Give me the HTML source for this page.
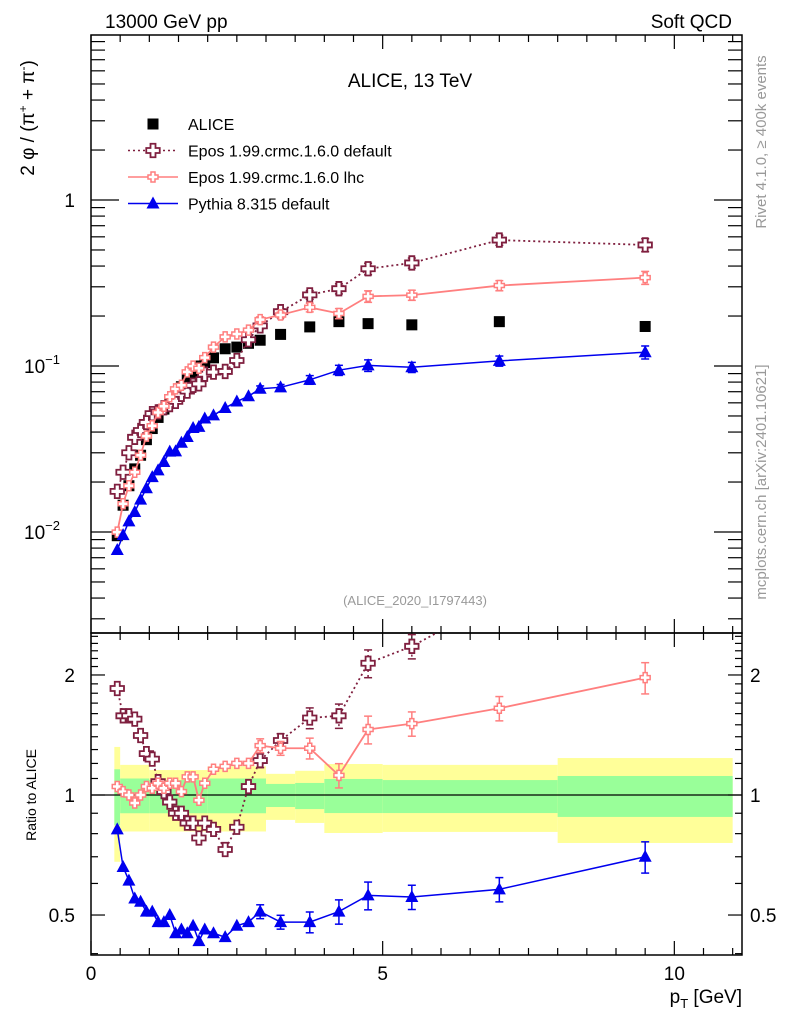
<!DOCTYPE html>
<html><head><meta charset="utf-8"><style>
html,body{margin:0;padding:0;background:#fff;}
svg{display:block;font-family:"Liberation Sans",sans-serif;}
</style></head><body>
<svg id="chart" width="786" height="1024" viewBox="0 0 786 1024" xmlns="http://www.w3.org/2000/svg">
<g id="bands"></g>
<g id="grid"></g>
<g id="series"></g>
<text x="105" y="28" font-size="19">13000 GeV pp</text>
<text x="732" y="28" font-size="19" text-anchor="end">Soft QCD</text>
<text x="410" y="87" font-size="19" text-anchor="middle">ALICE, 13 TeV</text>
<text x="415" y="605" font-size="13" fill="#999" text-anchor="middle">(ALICE_2020_I1797443)</text>
<text transform="translate(766,142) rotate(-90)" font-size="15" fill="#999" text-anchor="middle">Rivet 4.1.0, ≥ 400k events</text>
<text transform="translate(766,482) rotate(-90)" font-size="15" fill="#999" text-anchor="middle">mcplots.cern.ch [arXiv:2401.10621]</text>
<text transform="translate(34,118) rotate(-90)" font-size="19" text-anchor="middle">2 φ / (π<tspan dy="-7" font-size="12">+</tspan><tspan dy="7"> + π</tspan><tspan dy="-7" font-size="12">-</tspan><tspan dy="7">)</tspan></text>
<text transform="translate(36,795) rotate(-90)" font-size="14" text-anchor="middle">Ratio to ALICE</text>
<text x="742" y="1003" font-size="19" text-anchor="end">p<tspan dy="5" font-size="13">T</tspan><tspan dy="-5"> [GeV]</tspan></text>
<g id="legend"></g>
</svg>
<script>
const pt = [0.45,0.55,0.65,0.75,0.85,0.95,1.05,1.15,1.25,1.35,1.45,1.55,1.65,1.75,1.85,1.95,2.1,2.3,2.5,2.7,2.9,3.25,3.75,4.25,4.75,5.5,7,9.5];
const alice = [0.0095,0.0145,0.019,0.024,0.029,0.036,0.042,0.049,0.055,0.061,0.068,0.075,0.083,0.09,0.1,0.105,0.112,0.127,0.13,0.137,0.143,0.155,0.172,0.185,0.18,0.177,0.185,0.173];
const ratioEposDefault = [1.85,1.58,1.58,1.55,1.41,1.27,1.23,1.08,1.02,0.96,0.90,0.90,0.85,0.85,0.78,0.85,0.82,0.73,0.83,1.05,1.22,1.37,1.56,1.58,2.14,2.36,3.1,3.1];
const ratioEposLhc = [1.05,1.02,1.0,0.955,1.0,1.05,1.04,1.07,1.04,1.07,1.07,1.02,1.11,1.11,0.97,1.07,1.16,1.18,1.2,1.2,1.33,1.31,1.31,1.12,1.46,1.51,1.65,1.97];
const ratioPythia = [0.82,0.66,0.61,0.55,0.54,0.51,0.51,0.48,0.48,0.50,0.45,0.46,0.45,0.47,0.43,0.46,0.45,0.44,0.47,0.48,0.51,0.48,0.48,0.51,0.56,0.555,0.58,0.70];
const relErr = [0.02,0.02,0.02,0.02,0.02,0.02,0.02,0.02,0.02,0.02,0.02,0.02,0.02,0.02,0.03,0.03,0.03,0.03,0.03,0.03,0.04,0.04,0.06,0.07,0.08,0.07,0.07,0.09];
const bandEdges = [0.4,0.5,1.0,2.0,3.0,3.5,4.0,5.0,8.0,11.0];
const yellowHi = [1.32,1.19,1.155,1.18,1.13,1.15,1.196,1.19,1.238];
const yellowLo = [0.68,0.81,0.81,0.81,0.866,0.851,0.803,0.808,0.758];
const greenHi = [1.16,1.10,1.09,1.10,1.066,1.072,1.097,1.09,1.116];
const greenLo = [0.84,0.90,0.90,0.90,0.933,0.922,0.901,0.901,0.881];
const xTickLabels = [0,5,10];
const ratioTickLabels = [0.5,1,2];

const NS="http://www.w3.org/2000/svg";
const L=91,R=742,T=35,M=633,B=955;
const X=v=>L+v*(R-L)/11.16;
const Y=v=>200-166*Math.log10(v);
const YR=r=>795-398.7*Math.log10(r);
function mk(tag,attrs,parent){const e=document.createElementNS(NS,tag);for(const k in attrs)e.setAttribute(k,attrs[k]);parent.appendChild(e);return e;}
const svg=document.getElementById('chart');
const gb=document.getElementById('bands'),gg=document.getElementById('grid'),gs=document.getElementById('series'),gl=document.getElementById('legend');

for(let i=0;i<yellowHi.length;i++){
  const x0=X(bandEdges[i]),x1=X(bandEdges[i+1]);
  let r=mk('rect',{x:x0,y:YR(yellowHi[i]),width:x1-x0,height:YR(yellowLo[i])-YR(yellowHi[i]),fill:'#ffff99'},gb);
  
  
  r=mk('rect',{x:x0,y:YR(greenHi[i]),width:x1-x0,height:YR(greenLo[i])-YR(greenHi[i]),fill:'#99ff99'},gb);
  
  
}
mk('line',{x1:L,x2:R,y1:YR(1),y2:YR(1),stroke:'#000','stroke-width':1.2},gg);
mk('rect',{x:L,y:T,width:R-L,height:M-T,fill:'none',stroke:'#000','stroke-width':1.5},gg);
mk('rect',{x:L,y:M,width:R-L,height:B-M,fill:'none',stroke:'#000','stroke-width':1.5},gg);
for(let v=0;v<=11;v+=0.5){
  const x=X(v),maj=(v%5===0),len=maj?14:7;
  [[T,1],[M,1],[M,-1],[B,-1]].forEach(([y0,d])=>mk('line',{x1:x,x2:x,y1:y0,y2:y0+d*len,stroke:'#000','stroke-width':1.2},gg));
}
xTickLabels.forEach(v=>{const t=mk('text',{x:X(v),y:980,'font-size':19,'text-anchor':'middle'},gg);t.textContent=v;

});
for(let e=-3;e<=0;e++)for(let m=1;m<=9;m++){
  const v=m*Math.pow(10,e),y=Y(v);if(y<T||y>M)continue;
  const len=m===1?28:14;
  mk('line',{x1:L,x2:L+len,y1:y,y2:y,stroke:'#000','stroke-width':1.2},gg);
  mk('line',{x1:R,x2:R-len,y1:y,y2:y,stroke:'#000','stroke-width':1.2},gg);
}
[[-2,532],[-1,366]].forEach(([e,y])=>{const t=mk('text',{x:60,y:y+7,'font-size':19,'text-anchor':'end'},gg);t.innerHTML='10<tspan dy="-9" font-size="13">'+(e===-2?'−2':'−1')+'</tspan>';

});
{const t=mk('text',{x:75,y:207,'font-size':19,'text-anchor':'end'},gg);t.textContent='1';}
[0.4,0.5,0.6,0.7,0.8,0.9,1,1.1,1.2,1.3,1.4,1.5,1.6,1.7,1.8,1.9,2,2.1,2.2,2.3,2.4,2.5].forEach(v=>{
  const y=YR(v);if(y<M||y>B)return;const maj=ratioTickLabels.includes(v),len=maj?14:7;
  mk('line',{x1:L,x2:L+len,y1:y,y2:y,stroke:'#000','stroke-width':1.2},gg);
  mk('line',{x1:R,x2:R-len,y1:y,y2:y,stroke:'#000','stroke-width':1.2},gg);
});
ratioTickLabels.forEach(v=>{
  let t=mk('text',{x:75,y:YR(v)+7,'font-size':19,'text-anchor':'end'},gg);t.textContent=v;
  
  
  t=mk('text',{x:750,y:YR(v)+7,'font-size':19},gg);t.textContent=v;
  
  
});
const defs=mk('defs',{},svg);
const c1=mk('clipPath',{id:'cm'},defs);mk('rect',{x:L,y:T,width:R-L,height:M-T},c1);
const c2=mk('clipPath',{id:'cr'},defs);mk('rect',{x:L,y:M,width:R-L,height:B-M},c2);
const gm=mk('g',{'clip-path':'url(#cm)'},gs),gr=mk('g',{'clip-path':'url(#cr)'},gs);

function crossPath(x,y,s,w){const a=s/2,b=w/2;return `M${x-b},${y-a}H${x+b}V${y-b}H${x+a}V${y+b}H${x+b}V${y+a}H${x-b}V${y+b}H${x-a}V${y-b}H${x-b}Z`;}
function marker(g,kind,x,y,name){
  let e;
  if(kind==='square')e=mk('rect',{x:x-5.5,y:y-5.5,width:11,height:11,fill:'#000'},g);
  else if(kind==='crossBig')e=mk('path',{d:crossPath(x,y,13.5,5),fill:'#fff',stroke:'#7f1f3f','stroke-width':1.8},g);
  else if(kind==='crossSmall')e=mk('path',{d:crossPath(x,y,10,4),fill:'#fff',stroke:'#ff7f7f','stroke-width':1.5},g);
  else e=mk('path',{d:`M${x},${y-7}L${x+6.5},${y+5}L${x-6.5},${y+5}Z`,fill:'#0000ee'},g);
  
  
}
const models=[
  {r:ratioEposDefault,color:'#7f1f3f',dash:'2,3',w:1.8,kind:'crossBig',name:'epos-default'},
  {r:ratioEposLhc,color:'#ff7f7f',dash:'',w:1.8,kind:'crossSmall',name:'epos-lhc'},
  {r:ratioPythia,color:'#0000ee',dash:'',w:1.5,kind:'tri',name:'pythia'}
];
pt.forEach((p,i)=>marker(gm,'square',X(p),Y(alice[i]),'alice-point'));
models.forEach(m=>{
  const mv=m.r.map((r,i)=>r*alice[i]);
  [[gm,mv,Y],[gr,m.r,YR]].forEach(([g,vals,fy])=>{
    const pts=pt.map((p,i)=>X(p)+','+fy(vals[i])).join(' ');
    const pl=mk('polyline',{points:pts,fill:'none',stroke:m.color,'stroke-width':m.w,'stroke-dasharray':m.dash},g);
    
    
    pt.forEach((p,i)=>{
      const x=X(p),v=vals[i],e=relErr[i];
      if(e>0.035){
        const y1=fy(v*(1+e)),y2=fy(v*(1-e));
        mk('line',{x1:x,x2:x,y1:y1,y2:y2,stroke:m.color,'stroke-width':1.5,'stroke-dasharray':m.dash},g);
        mk('line',{x1:x-4,x2:x+4,y1:y1,y2:y1,stroke:m.color,'stroke-width':1.5},g);
        mk('line',{x1:x-4,x2:x+4,y1:y2,y2:y2,stroke:m.color,'stroke-width':1.5},g);
      }
      marker(g,m.kind,x,fy(v),m.name+'-point');
    });
  });
});
const leg=[['square','ALICE',null,''],['crossBig','Epos 1.99.crmc.1.6.0 default','#7f1f3f','2,3'],['crossSmall','Epos 1.99.crmc.1.6.0 lhc','#ff7f7f',''],['tri','Pythia 8.315 default','#0000ee','']];
leg.forEach((l,i)=>{
  const y=124+i*26.5;
  const g=mk('g',{},gl);
  
  
  if(l[2])mk('line',{x1:128,x2:178,y1:y,y2:y,stroke:l[2],'stroke-width':1.6,'stroke-dasharray':l[3]},g);
  marker(g,l[0],153,y,'legend-marker');
  const t=mk('text',{x:188,y:y+6,'font-size':16},g);t.textContent=l[1];
});
</script>
</body></html>
